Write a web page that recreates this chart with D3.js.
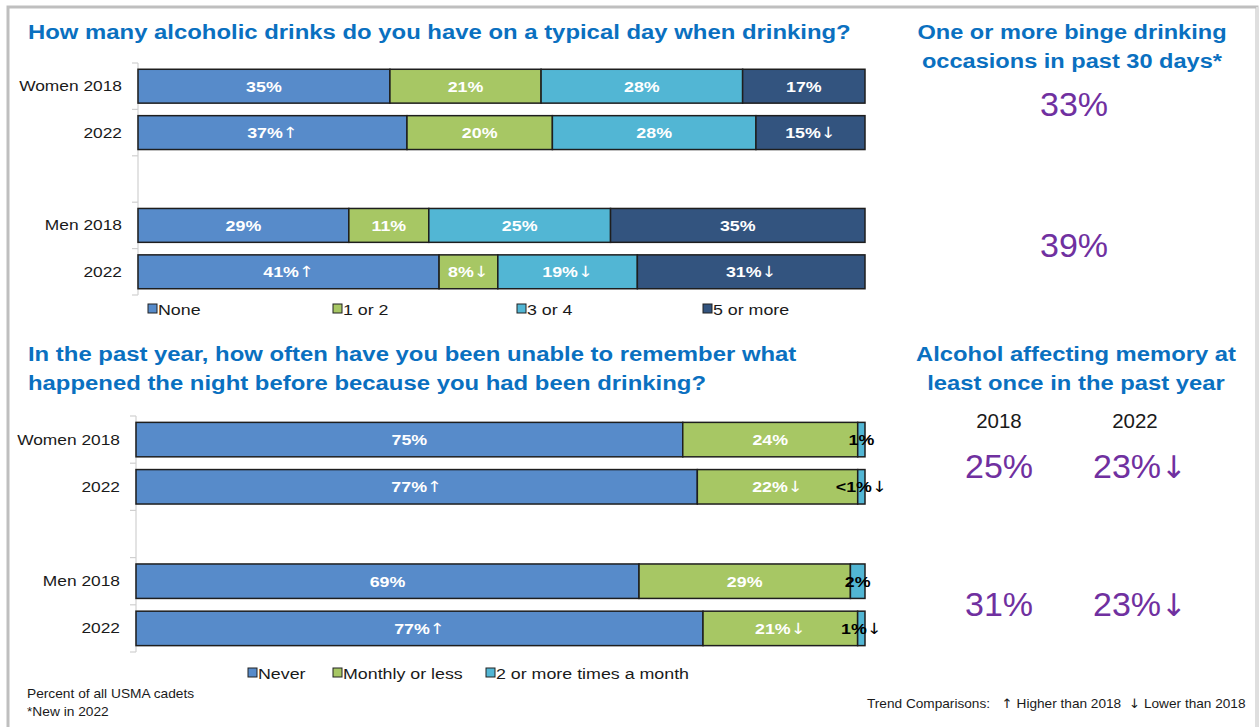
<!DOCTYPE html>
<html><head><meta charset="utf-8">
<script src="https://cdn.jsdelivr.net/npm/d3@7"></script>
<style>
html,body{margin:0;padding:0;background:#fff;}
svg{display:block;font-family:"Liberation Sans",Arial,sans-serif;}
</style></head>
<body><svg id="c" width="1260" height="727"></svg>
<script>
// ---------- DATA ----------
const rowKeys = ["w18","w22","gap","m18","m22"];
const rowLabels = ["Women 2018","2022","","Men 2018","2022"];

const drinkSeries = ["None","1 or 2","3 or 4","5 or more"];
const drinkValues = [
  [35,21,28,17],
  [37,20,28,15],
  null,
  [29,11,25,35],
  [41,8,19,31]
];
const drinkTrend = [
  ["","","",""],
  ["up","","","down"],
  null,
  ["","","",""],
  ["up","down","down","down"]
];

const memSeries = ["Never","Monthly or less","2 or more times a month"];
const memValues = [
  [75,24,1],
  [77,22,1],
  null,
  [69,29,2],
  [77,21,1]
];
const memText = [
  ["75%","24%","1%"],
  ["77%","22%","<1%"],
  null,
  ["69%","29%","2%"],
  ["77%","21%","1%"]
];
const memTrend = [
  ["","",""],
  ["up","down","down"],
  null,
  ["","",""],
  ["up","down","down"]
];

const bingeValues = ["33%","39%"];
const memYears = ["2018","2022"];
const memOnce = [["25%","23%"],["31%","23%"]];
const memOnceTrend = [["","down"],["","down"]];

const drinkColors = ["#578BCA","#A7C764","#52B6D4","#33547F"];
const memColors = ["#578BCA","#A7C764","#52B6D4"];

// ---------- DRAW ----------
const svg = d3.select("#c");
const arrow = t => t==="up" ? "↑" : t==="down" ? "↓" : "";
const ARROW_FONT = "'DejaVu Sans',sans-serif";

function stretch(sel, s){
  sel.each(function(){
    const x = +this.getAttribute("x") || 0;
    d3.select(this).attr("transform",`translate(${x},0) scale(${s},1) translate(${-x},0)`);
  });
  return sel;
}

// frame
svg.append("rect").attr("x",8).attr("y",7).attr("width",1249).attr("height",740)
  .attr("fill","none").attr("stroke","#bfbfbf").attr("stroke-width",3);
svg.append("line").attr("x1",1257).attr("x2",1257).attr("y1",7).attr("y2",727)
  .attr("stroke","#ffffff").attr("stroke-width",2);
svg.append("line").attr("x1",1257).attr("x2",1257).attr("y1",7).attr("y2",727)
  .attr("stroke","#bfbfbf").attr("stroke-width",1);

function addLabel(g, x, y, main, arr, fill, size, bold){
  const t = g.append("text").attr("x",x).attr("y",y).attr("dy","0.36em")
    .attr("text-anchor","middle").attr("font-size",size)
    .attr("font-weight",bold?"bold":"normal").attr("fill",fill);
  t.append("tspan").text(main);
  if(arr) t.append("tspan").attr("font-family",ARROW_FONT).attr("font-weight","normal").text(arr);
  return t;
}

function stackedChart(opts){
  const {x0,x1,y0,y1,values,texts,trends,colors,darkSmall} = opts;
  const x = d3.scaleLinear().domain([0,1]).range([x0,x1]);
  const y = d3.scaleBand().domain(rowKeys).range([y0,y1]).paddingInner(0.27).paddingOuter(0.135);
  const g = svg.append("g");

  g.append("line").attr("x1",x0).attr("x2",x0).attr("y1",y0).attr("y2",y1)
    .attr("stroke","#d0d0d0").attr("stroke-width",1.2);
  const step = y.step();
  d3.range(rowKeys.length+1).forEach(i=>{
    const yy = y0 + i*step;
    g.append("line").attr("x1",x0-6).attr("x2",x0).attr("y1",yy).attr("y2",yy)
      .attr("stroke","#d0d0d0").attr("stroke-width",1.2);
  });
  const ax = g.append("g").attr("transform",`translate(${x0-16},0)`)
    .call(d3.axisLeft(y).tickSize(0).tickFormat((d,i)=>rowLabels[i]));
  ax.select(".domain").remove();
  ax.selectAll("text").attr("font-size",15.5).attr("fill","#1a1a1a")
    .attr("font-family","'Liberation Sans',Arial,sans-serif")
    .each(function(){ d3.select(this).attr("transform",`scale(1.12,1)`).attr("x",0); });

  rowKeys.forEach((k,ri)=>{
    const vals = values[ri];
    if(!vals) return;
    const total = d3.sum(vals);
    let cum = 0;
    vals.forEach((v,si)=>{
      const a = cum/total, b = (cum+v)/total;
      cum += v;
      const xa = x(a), xb = x(b);
      g.append("rect").attr("x",xa).attr("y",y(k)).attr("width",xb-xa).attr("height",y.bandwidth())
        .attr("fill",colors[si]).attr("stroke","#1e1e1e").attr("stroke-width",1.5);
      const small = darkSmall && si===vals.length-1;
      const main = texts ? texts[ri][si] : v+"%";
      const t = addLabel(g,(xa+xb)/2,y(k)+y.bandwidth()/2,main,arrow(trends[ri][si]),small?"#000":"#fff",15.5,true);
      stretch(t,1.15);
    });
  });
}

stackedChart({x0:138,x1:865,y0:63,y1:295,values:drinkValues,texts:null,trends:drinkTrend,colors:drinkColors,darkSmall:false});
stackedChart({x0:136,x1:865,y0:416,y1:652,values:memValues,texts:memText,trends:memTrend,colors:memColors,darkSmall:true});

function legend(items,colors,xs,yc){
  items.forEach((t,i)=>{
    svg.append("rect").attr("x",xs[i]).attr("y",yc-5).attr("width",9).attr("height",9)
      .attr("fill",colors[i]).attr("stroke","#222").attr("stroke-width",1);
    const tt = svg.append("text").attr("x",xs[i]+10).attr("y",yc).attr("dy","0.36em")
      .attr("font-size",15.5).attr("fill","#1a1a1a").text(t);
    stretch(tt,1.15);
  });
}
legend(drinkSeries,drinkColors,[148,333,517,703],309);
legend(memSeries,memColors,[248,333,486],673);

const blue = "#0A70C0";
function txt(x,y,s,size,opts={}){
  return svg.append("text").attr("x",x).attr("y",y).attr("font-size",size)
    .attr("fill",opts.fill||"#1a1a1a").attr("font-weight",opts.bold?"bold":"normal")
    .attr("text-anchor",opts.anchor||"start").text(s);
}
stretch(txt(28,39,"How many alcoholic drinks do you have on a typical day when drinking?",19.5,{fill:blue,bold:true}),1.225);
stretch(txt(28,361,"In the past year, how often have you been unable to remember what",19.5,{fill:blue,bold:true}),1.225);
stretch(txt(28,390,"happened the night before because you had been drinking?",19.5,{fill:blue,bold:true}),1.225);

stretch(txt(1072,39,"One or more binge drinking",19.5,{fill:blue,bold:true,anchor:"middle"}),1.21);
stretch(txt(1072,68,"occasions in past 30 days*",19.5,{fill:blue,bold:true,anchor:"middle"}),1.21);
const purple = "#7030A0";
txt(1074,116,bingeValues[0],34,{fill:purple,anchor:"middle"});
txt(1074,257,bingeValues[1],34,{fill:purple,anchor:"middle"});

stretch(txt(1076,361,"Alcohol affecting memory at",19.5,{fill:blue,bold:true,anchor:"middle"}),1.22);
stretch(txt(1076,390,"least once in the past year",19.5,{fill:blue,bold:true,anchor:"middle"}),1.22);
stretch(txt(999,428,memYears[0],19.5,{anchor:"middle"}),1.05);
stretch(txt(1135,428,memYears[1],19.5,{anchor:"middle"}),1.05);

function bigPct(x,y,s,tr){
  const t = svg.append("text").attr("x",x).attr("y",y).attr("font-size",34)
    .attr("fill",purple).attr("text-anchor","middle");
  t.append("tspan").text(s);
  const a = arrow(tr);
  if(a) t.append("tspan").attr("font-family",ARROW_FONT).attr("font-size",31).text(a);
  return t;
}
bigPct(999,478,memOnce[0][0],memOnceTrend[0][0]);
bigPct(1140,478,memOnce[0][1],memOnceTrend[0][1]);
bigPct(999,616,memOnce[1][0],memOnceTrend[1][0]);
bigPct(1140,616,memOnce[1][1],memOnceTrend[1][1]);

stretch(txt(27,698,"Percent of all USMA cadets",12.5),1.1);
stretch(txt(27,716,"*New in 2022",12.5),1.1);
const tr = svg.append("text").attr("x",867).attr("y",708).attr("font-size",13).attr("fill","#1a1a1a")
  .style("white-space","pre");
tr.append("tspan").text("Trend Comparisons:   ");
tr.append("tspan").attr("font-family",ARROW_FONT).text("↑");
tr.append("tspan").text(" Higher than 2018  ");
tr.append("tspan").attr("font-family",ARROW_FONT).text("↓");
tr.append("tspan").text(" Lower than 2018");
stretch(tr,1.05);
</script></body></html>
